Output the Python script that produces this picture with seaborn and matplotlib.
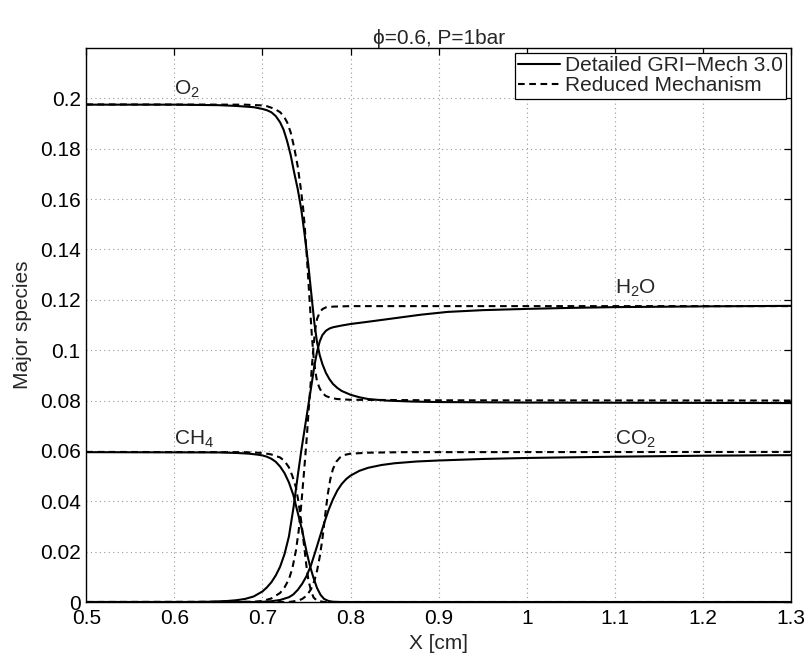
import numpy as np
import pandas as pd
import matplotlib
matplotlib.use("Agg")
import matplotlib.pyplot as plt
import seaborn as sns
from matplotlib.lines import Line2D

# ---------------------------------------------------------------
# Data (x in cm, mole fractions)
# ---------------------------------------------------------------
o2_det_x = [0.50, 0.60, 0.65, 0.67, 0.69, 0.70, 0.705, 0.71, 0.715, 0.72, 0.724, 0.728,
            0.732, 0.736, 0.740, 0.744, 0.748, 0.752, 0.756, 0.759, 0.762, 0.765, 0.768,
            0.772, 0.776, 0.780, 0.785, 0.790, 0.80, 0.81, 0.82, 0.84, 0.87, 0.90, 1.0, 1.3]
o2_det_y = [0.1975, 0.1975, 0.1973, 0.1970, 0.1965, 0.1958, 0.1953, 0.1945, 0.1930,
            0.1905, 0.1875, 0.1830, 0.1775, 0.1705, 0.1640, 0.1560, 0.1455, 0.1340,
            0.1205, 0.1105, 0.1030, 0.0980, 0.0945, 0.0910, 0.0885, 0.0866, 0.0850,
            0.0838, 0.0823, 0.0813, 0.0806, 0.0800, 0.0796, 0.0794, 0.0792, 0.0790]

o2_red_x = [0.50, 0.68, 0.70, 0.705, 0.71, 0.715, 0.72, 0.724, 0.728, 0.732, 0.736, 0.740,
            0.743, 0.746, 0.748, 0.750, 0.752, 0.754, 0.756, 0.758, 0.760, 0.762, 0.765,
            0.768, 0.772, 0.778, 0.785, 0.80, 0.90, 1.30]
o2_red_y = [0.1976, 0.1975, 0.1972, 0.1969, 0.1963, 0.1956, 0.1945, 0.1930, 0.1905,
            0.1865, 0.1805, 0.1730, 0.1655, 0.1570, 0.1490, 0.1390, 0.1280, 0.1170,
            0.1060, 0.0975, 0.0915, 0.0875, 0.0848, 0.0830, 0.0818, 0.0810, 0.0806,
            0.0803, 0.0801, 0.0800]

h2o_det_x = [0.50, 0.62, 0.64, 0.66, 0.67, 0.68, 0.69, 0.70, 0.705, 0.71, 0.715, 0.72,
             0.725, 0.73, 0.735, 0.740, 0.744, 0.748, 0.752, 0.756, 0.759, 0.762, 0.765,
             0.768, 0.772, 0.776, 0.780, 0.79, 0.80, 0.82, 0.85, 0.88, 0.91, 0.95, 1.0,
             1.05, 1.1, 1.2, 1.3]
h2o_det_y = [0.0, 0.0, 0.0001, 0.0004, 0.0007, 0.0012, 0.0022, 0.0042, 0.0058, 0.0078,
             0.0105, 0.0140, 0.0190, 0.0260, 0.0370, 0.0500, 0.0600, 0.0690, 0.0780,
             0.0870, 0.0940, 0.0995, 0.1035, 0.1060, 0.1077, 0.1086, 0.1091, 0.1098,
             0.1104, 0.1113, 0.1127, 0.1141, 0.1152, 0.1159, 0.1164, 0.1168, 0.1171,
             0.1174, 0.1176]

h2o_red_x = [0.50, 0.69, 0.70, 0.71, 0.72, 0.725, 0.73, 0.734, 0.738, 0.741, 0.744, 0.747,
             0.750, 0.753, 0.756, 0.758, 0.760, 0.762, 0.765, 0.768, 0.772, 0.78, 0.80, 1.30]
h2o_red_y = [0.0, 0.0001, 0.0004, 0.0014, 0.0036, 0.0058, 0.0090, 0.0135, 0.0205, 0.0280,
             0.0385, 0.0510, 0.0640, 0.0790, 0.0930, 0.1020, 0.1085, 0.1125, 0.1150,
             0.1163, 0.1170, 0.1173, 0.1175, 0.1175]

ch4_det_x = [0.50, 0.65, 0.67, 0.685, 0.695, 0.70, 0.705, 0.71, 0.715, 0.72, 0.725, 0.73,
             0.735, 0.74, 0.745, 0.75, 0.754, 0.758, 0.762, 0.766, 0.770, 0.775, 0.78,
             0.79, 1.30]
ch4_det_y = [0.0595, 0.0594, 0.0592, 0.0589, 0.0585, 0.0582, 0.0577, 0.0569, 0.0557,
             0.0538, 0.0512, 0.0475, 0.0425, 0.0355, 0.0285, 0.0200, 0.0142, 0.0095,
             0.0055, 0.0028, 0.0012, 0.0004, 0.0001, 0.0, 0.0]

ch4_red_x = [0.50, 0.68, 0.70, 0.71, 0.72, 0.725, 0.73, 0.734, 0.738, 0.741, 0.744, 0.747,
             0.750, 0.752, 0.755, 0.758, 0.762, 0.77, 1.30]
ch4_red_y = [0.0596, 0.0595, 0.0592, 0.0586, 0.0574, 0.0560, 0.0535, 0.0500, 0.0455,
             0.0395, 0.0320, 0.0230, 0.0140, 0.0090, 0.0045, 0.0018, 0.0005, 0.0, 0.0]

co2_det_x = [0.50, 0.69, 0.70, 0.71, 0.72, 0.73, 0.735, 0.74, 0.745, 0.75, 0.755, 0.76,
             0.765, 0.77, 0.775, 0.78, 0.785, 0.79, 0.795, 0.80, 0.81, 0.82, 0.835, 0.85,
             0.875, 0.90, 0.95, 1.0, 1.1, 1.2, 1.3]
co2_det_y = [0.0, 0.0, 0.0001, 0.0003, 0.0008, 0.0019, 0.0030, 0.0048, 0.0072, 0.0103,
             0.0145, 0.0200, 0.0257, 0.0313, 0.0365, 0.0408, 0.0443, 0.0469, 0.0488,
             0.0502, 0.0521, 0.0533, 0.0544, 0.0551, 0.0558, 0.0562, 0.0568, 0.0572,
             0.0577, 0.0581, 0.0583]

co2_red_x = [0.50, 0.73, 0.74, 0.745, 0.75, 0.755, 0.759, 0.762, 0.765, 0.768, 0.771,
             0.774, 0.777, 0.780, 0.784, 0.788, 0.793, 0.80, 0.82, 0.86, 1.30]
co2_red_y = [0.0, 0.0, 0.0005, 0.0012, 0.0025, 0.0050, 0.0085, 0.0125, 0.0180, 0.0250,
             0.0340, 0.0425, 0.0488, 0.0528, 0.0558, 0.0574, 0.0584, 0.0589, 0.0593,
             0.0595, 0.0596]

species_labels = ["O$_2$", "H$_2$O", "CH$_4$", "CO$_2$"]
label_pos = [(0.60, 0.2015), (1.10, 0.1225), (0.60, 0.0625), (1.10, 0.0625)]
mech_names = ["Detailed GRI\u2212Mech 3.0", "Reduced Mechanism"]

# build one long table for seaborn
rows = []
curves = [
    ("O2", o2_det_x, o2_det_y, o2_red_x, o2_red_y),
    ("H2O", h2o_det_x, h2o_det_y, h2o_red_x, h2o_red_y),
    ("CH4", ch4_det_x, ch4_det_y, ch4_red_x, ch4_red_y),
    ("CO2", co2_det_x, co2_det_y, co2_red_x, co2_red_y),
]
for sp, dx, dy, rx, ry in curves:
    rows.append(pd.DataFrame({"x": dx, "y": dy, "species": sp, "mech": mech_names[0]}))
    rows.append(pd.DataFrame({"x": rx, "y": ry, "species": sp, "mech": mech_names[1]}))
df = pd.concat(rows, ignore_index=True)

# ---------------------------------------------------------------
# Plot
# ---------------------------------------------------------------
sns.set_theme(style="white")
plt.rcParams["font.family"] = ["Liberation Sans", "DejaVu Sans"]
plt.rcParams["mathtext.fontset"] = "custom"
plt.rcParams["mathtext.rm"] = "Liberation Sans"
plt.rcParams["mathtext.it"] = "Liberation Sans:italic"

fig = plt.figure(figsize=(8.08, 6.54), dpi=100)
ax = fig.add_axes([0.1068, 0.0795, 0.8722, 0.8471])

sns.lineplot(
    data=df, x="x", y="y",
    hue="species", style="mech",
    palette=["black"] * 4,
    dashes={mech_names[0]: "", mech_names[1]: (3.2, 2.2)},
    estimator=None, sort=False, linewidth=1.5, legend=False, ax=ax,
)

ax.set_xlim(0.5, 1.3)
ax.set_ylim(0, 0.22)
ax.set_xticks(np.arange(0.5, 1.31, 0.1))
ax.set_xticklabels(["0.5", "0.6", "0.7", "0.8", "0.9", "1", "1.1", "1.2", "1.3"])
ax.set_yticks(np.arange(0, 0.201, 0.02))
ax.set_yticklabels(["0", "0.02", "0.04", "0.06", "0.08", "0.1", "0.12", "0.14",
                    "0.16", "0.18", "0.2"])
ax.grid(True, linestyle=(0, (1, 3)), color="#9a9a9a", linewidth=0.8)
ax.tick_params(direction="in", length=5, width=0.9, top=True, right=True,
               labelsize=15, colors="black")
ax.tick_params(axis="x", pad=5)
ax.tick_params(axis="y", pad=4)
for s in ax.spines.values():
    s.set_color("black")
    s.set_linewidth(1.0)

ax.set_xlabel("X [cm]", fontsize=15, labelpad=4)
ax.set_ylabel("Major species", fontsize=15, labelpad=6)
ax.set_title("\u03d5=0.6, P=1bar", fontsize=15, pad=3)

for lab, (lx, ly) in zip(species_labels, label_pos):
    ax.text(lx, ly, lab, fontsize=15, ha="left", va="baseline")

handles = [Line2D([], [], color="black", lw=1.5),
           Line2D([], [], color="black", lw=1.5, dashes=(3.2, 2.2))]
leg = ax.legend(handles, mech_names, loc="upper right", fontsize=15,
                frameon=True, fancybox=False, framealpha=1, edgecolor="black",
                borderaxespad=0.25, borderpad=0.15, labelspacing=0.05,
                handlelength=2.0, handletextpad=0.25)
leg.get_frame().set_linewidth(0.9)

fig.savefig("out.png", dpi=100)
